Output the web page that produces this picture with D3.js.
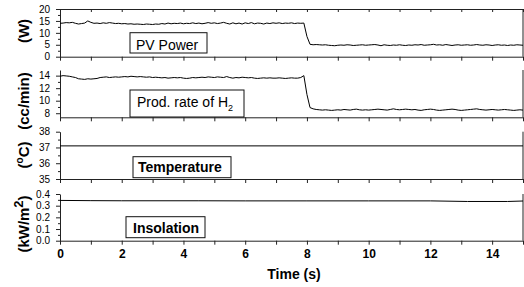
<!DOCTYPE html>
<html>
<head>
<meta charset="utf-8">
<script src="https://cdn.jsdelivr.net/npm/d3@7"></script>
<style>
  body { margin: 0; background: #fff; }
  svg { display: block; font-family: 'Liberation Sans', Arial, sans-serif; }
  .domain, .tick line { stroke: #222; }
</style>
</head>
<body>
<script>
const w = 524;
const h = 287;

// time grid: one sample every 0.1 s, 0 .. 15 s
const dt = 0.1;

// PV power (W)
const pvPower = [
  14.0, 14.1, 14.3, 14.2, 14.4, 14.0, 13.7, 13.9, 14.1, 15.0,
  14.4, 14.0, 14.1, 13.9, 14.2, 14.0, 14.3, 14.1, 13.9, 14.0,
  13.8, 13.9, 13.7, 13.8, 13.6, 13.7, 13.6, 13.5, 13.7, 13.6,
  13.5, 13.7, 13.6, 13.9, 13.7, 14.1, 13.8, 14.0, 13.9, 14.1,
  13.8, 14.0, 13.9, 14.2, 13.9, 14.1, 13.8, 14.0, 14.3, 14.0,
  14.2, 13.9, 14.1, 14.4, 14.0, 13.7, 14.2, 13.8, 14.1, 13.7,
  14.2, 13.9, 14.3, 13.8, 14.1, 14.0, 13.7, 14.1, 13.9, 14.2,
  14.0, 14.2, 13.9, 14.1, 14.0, 14.2, 13.9, 14.1, 14.0, 14.1,
  8.5, 5.2, 5.0, 5.1, 5.0, 4.9, 5.0, 4.8, 4.7, 4.6,
  4.8, 4.9, 4.8, 5.0, 4.9, 4.7, 4.8, 4.9, 5.0, 4.8,
  4.9, 5.0, 5.1, 4.9, 4.6, 5.0, 4.8, 4.7, 4.9, 4.8,
  5.0, 4.8, 4.7, 4.9, 4.8, 5.0, 4.9, 5.1, 4.8, 4.9,
  5.0, 5.2, 4.9, 5.0, 4.8, 5.1, 4.9, 4.7, 4.9, 5.0,
  4.8, 4.9, 5.0, 4.8, 4.9, 5.1, 4.9, 4.8, 5.0, 4.9,
  4.7, 4.9, 5.0, 4.8, 4.9, 4.7, 4.9, 4.8, 5.0, 4.9,
  4.8
];

// production rate of H2 (cc/min)
const prodRate = [
  13.9, 14.0, 13.95, 13.9, 13.8, 13.7, 13.5, 13.45, 13.4, 13.5,
  13.45, 13.5, 13.55, 13.7, 13.75, 13.8, 13.7, 13.75, 13.8, 13.75,
  13.8, 13.85, 13.8, 13.9, 13.85, 13.8, 13.85, 13.8, 13.75, 13.8,
  13.7, 13.75, 13.7, 13.65, 13.7, 13.6, 13.65, 13.7, 13.65, 13.7,
  13.6, 13.55, 13.6, 13.7, 13.65, 13.7, 13.75, 13.7, 13.8, 13.75,
  13.7, 13.8, 13.75, 13.7, 13.85, 13.7, 13.6, 13.7, 13.65, 13.75,
  13.7, 13.65, 13.7, 13.6, 13.55, 13.6, 13.65, 13.6, 13.65, 13.6,
  13.6, 13.65, 13.6, 13.55, 13.6, 13.65, 13.6, 13.6, 13.7, 14.0,
  11.0, 8.9, 8.7, 8.6, 8.55, 8.5, 8.55, 8.5, 8.45, 8.5,
  8.55, 8.5, 8.6, 8.55, 8.5, 8.6, 8.65, 8.55, 8.5, 8.55,
  8.5, 8.55, 8.6, 8.65, 8.6, 8.55, 8.5, 8.6, 8.7, 8.6,
  8.55, 8.6, 8.65, 8.6, 8.55, 8.6, 8.5, 8.45, 8.55, 8.6,
  8.65, 8.6, 8.5, 8.45, 8.5, 8.55, 8.6, 8.65, 8.6, 8.5,
  8.45, 8.5, 8.55, 8.6, 8.65, 8.7, 8.6, 8.55, 8.5, 8.55,
  8.6, 8.55, 8.5, 8.55, 8.6, 8.55, 8.5, 8.45, 8.5, 8.55,
  8.5
];

// temperature (oC) and insolation (kW/m2), sparse samples
const tempTimes = [0, 15];
const temperature = [37.1, 37.1];
const insolTimes = [0, 1, 2, 4.5, 6, 8, 10, 12, 13.2, 14.5, 15];
const insolation = [0.345, 0.343, 0.342, 0.342, 0.341, 0.341, 0.341, 0.341, 0.336, 0.336, 0.34];

const xTicks = d3.range(0, 16, 1);
const xLabels = [0, 2, 4, 6, 8, 10, 12, 14];

const toPoints = (vals) => vals.map((v, i) => [i * dt, v]);
const zipPoints = (ts, vals) => ts.map((t, i) => [t, vals[i]]);

const panels = [
  {
    data: toPoints(pvPower), domain: [0, 20], range: [56.7, 9],
    major: [0, 5, 10, 15, 20], minor: [2.5, 7.5, 12.5, 17.5], fmt: d3.format('d'),
    title: [['(W)']], titleY: 31, topAxis: true,
    box: { x: 130, y: 32.7, w: 77, h: 20.3, tx: 136, ty: 50, bold: false },
    label: [['PV Power']]
  },
  {
    data: toPoints(prodRate), domain: [7.35, 14.9], range: [117.3, 70],
    major: [8, 10, 12, 14], minor: [9, 11, 13], fmt: d3.format('d'),
    title: [['(cc/min)']], titleY: 101,
    box: { x: 130, y: 90, w: 114, h: 27, tx: 137, ty: 106.7, bold: false },
    label: [['Prod. rate of H'], ['2', 'sub']]
  },
  {
    data: zipPoints(tempTimes, temperature), domain: [35, 38], range: [179, 131.7],
    major: [35, 36, 37, 38], minor: [35.5, 36.5, 37.5], fmt: d3.format('d'),
    title: [['('], ['o', 'sup'], ['C)']], titleY: 155,
    box: { x: 133, y: 156.7, w: 98, h: 21, tx: 138, ty: 171.7, bold: true },
    label: [['Temperature']]
  },
  {
    data: zipPoints(insolTimes, insolation), domain: [0, 0.4], range: [240.7, 194],
    major: [0, 0.1, 0.2, 0.3, 0.4], minor: [0.05, 0.15, 0.25, 0.35], fmt: d3.format('.1f'),
    title: [['(kW/m'], ['2', 'sup'], [')']], titleY: 224,
    box: { x: 126, y: 216.7, w: 79, h: 21, tx: 133, ty: 233.3, bold: true },
    label: [['Insolation']],
    bottomLabels: true
  }
];

const svg = d3.select('body').append('svg').attr('width', w).attr('height', h);

const xScale = d3.scaleLinear().domain([0, 15]).range([60, 523]);

panels.forEach((p) => {
  const yScale = d3.scaleLinear().domain(p.domain).range(p.range);
  const [yBot, yTop] = p.range;

  // bottom axis of the panel
  const xAxis = d3.axisBottom(xScale)
    .tickValues(xTicks)
    .tickSize(4)
    .tickSizeOuter(0)
    .tickPadding(5)
    .tickFormat((d) => (p.bottomLabels && xLabels.includes(d) ? d3.format('d')(d) : ''));
  const gx = svg.append('g').attr('transform', `translate(0,${yBot})`).call(xAxis);
  gx.selectAll('text').style('font-size', '12px').style('font-weight', 'bold').attr('fill', '#000');

  if (p.topAxis) {
    svg.append('g')
      .attr('transform', `translate(0,${yTop})`)
      .call(d3.axisTop(xScale).tickValues(xTicks).tickSize(-3).tickSizeOuter(0).tickFormat(''));
  }

  // left axis, major + minor
  const gy = svg.append('g').attr('transform', 'translate(60,0)')
    .call(d3.axisLeft(yScale).tickValues(p.major).tickSize(4).tickSizeOuter(0).tickPadding(6).tickFormat(p.fmt));
  gy.selectAll('text').style('font-size', '10px').attr('fill', '#000');
  svg.append('g').attr('transform', 'translate(60,0)')
    .call(d3.axisLeft(yScale).tickValues(p.minor).tickSize(2).tickSizeOuter(0).tickFormat(''))
    .select('.domain').remove();

  // right border
  svg.append('line')
    .attr('x1', xScale(15)).attr('x2', xScale(15))
    .attr('y1', yTop).attr('y2', yBot)
    .attr('stroke', '#222');

  // data trace
  const line = d3.line().x((d) => xScale(d[0])).y((d) => yScale(d[1]));
  svg.append('path')
    .datum(p.data)
    .attr('d', line)
    .attr('fill', 'none')
    .attr('stroke', '#000')
    .attr('stroke-width', 1);

  // boxed label
  svg.append('rect')
    .attr('x', p.box.x).attr('y', p.box.y)
    .attr('width', p.box.w).attr('height', p.box.h)
    .attr('fill', '#fff').attr('stroke', '#111').attr('stroke-width', 1);
  const lt = svg.append('text')
    .attr('x', p.box.tx).attr('y', p.box.ty)
    .style('font-size', '14px')
    .style('font-weight', p.box.bold ? 'bold' : 'normal');
  p.label.forEach(([s, kind]) => {
    const ts = lt.append('tspan').text(s);
    if (kind === 'sub') ts.attr('dy', 4).style('font-size', '9px');
  });

  // y title
  const tt = svg.append('text')
    .attr('transform', `translate(29,${p.titleY}) rotate(-90)`)
    .attr('text-anchor', 'middle')
    .style('font-size', '15px')
    .style('font-weight', 'bold');
  let shifted = 0;
  p.title.forEach(([s, kind]) => {
    const ts = tt.append('tspan').text(s);
    if (kind === 'sup') {
      ts.attr('dy', -6).style('font-size', s === 'o' ? '10px' : '13px');
      shifted = 6;
    } else if (shifted) {
      ts.attr('dy', shifted);
      shifted = 0;
    }
  });
});

svg.append('text')
  .attr('x', 294)
  .attr('y', 279)
  .attr('text-anchor', 'middle')
  .style('font-size', '14px')
  .style('font-weight', 'bold')
  .text('Time (s)');
</script>
</body>
</html>
